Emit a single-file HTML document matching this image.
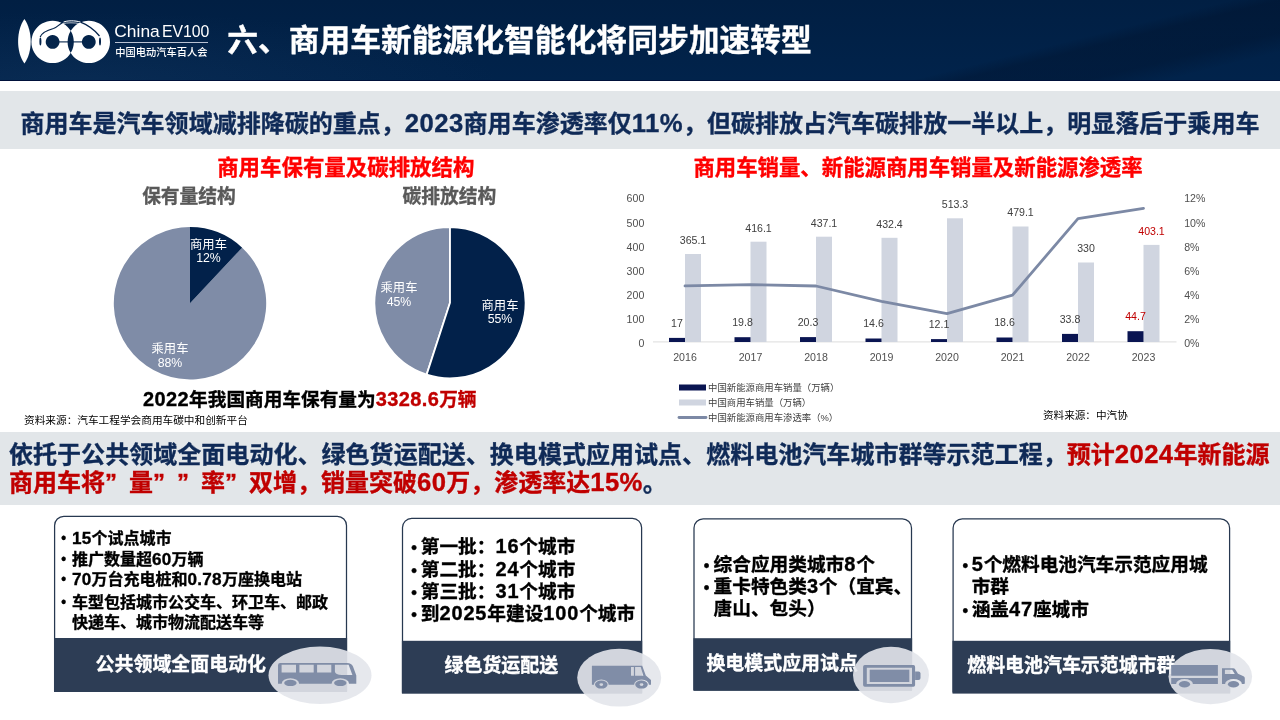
<!DOCTYPE html>
<html lang="zh-CN"><head><meta charset="utf-8"><title>商用车新能源化智能化</title><style>
html,body{margin:0;padding:0}
body{width:1280px;height:720px;position:relative;overflow:hidden;background:#fff;font-family:"Liberation Sans","Noto Sans CJK SC",sans-serif}
.t{position:absolute;white-space:nowrap;font-family:"Liberation Sans","Noto Sans CJK SC",sans-serif}
.b{-webkit-text-stroke:0.35px currentColor}
#hdr{position:absolute;left:0;top:0;width:1280px;height:81px;box-sizing:border-box;border-bottom:1px solid #00113a;background:
 radial-gradient(ellipse 420px 70px at 80px 82px, rgba(45,80,120,0.17), rgba(45,80,120,0) 100%),
 linear-gradient(166deg, rgba(0,0,0,0) 0%, rgba(0,0,0,0) 77%, rgba(0,8,25,0.25) 80%, rgba(0,8,25,0.25) 88%, rgba(0,0,0,0) 93%),
 linear-gradient(to bottom, #011f43 0%, #01234b 100%)}
.band{position:absolute;left:0;width:1280px;background:#e2e6e9}
.q{display:inline-block;width:1em;text-align:left}
</style></head><body>
<div id="hdr"></div>
<svg id="logo" width="120" height="72" viewBox="0 0 120 72" style="position:absolute;left:0;top:0">
<g transform="translate(0,0.5)"><path d="M24.4 18.6 C32.8 30 32.8 52 24.4 63 C16 52 16 30 24.4 18.6 Z" fill="#fff"/>
<path fill="#fff" fill-rule="evenodd" d="M52.6 20.2 a21.2 21.2 0 1 0 0.01 0 Z M88.8 20.2 a21.2 21.2 0 1 0 0.01 0 Z M52.6 34.5 a6.9 6.9 0 1 0 0.01 0 Z M88.8 34.5 a6.9 6.9 0 1 0 0.01 0 Z"/>
<path d="M59 41.4 H82.5" stroke="#03224a" stroke-width="1.1" fill="none"/>
<path d="M40.2 36.5 C42 31.5 48 29.5 53.5 28 C58 26.5 60 22.5 64.5 21.2 C69 19.6 76 19.6 80 21.4 C88 24.5 95 30 99.5 35.5" stroke="#03224a" stroke-width="1.25" fill="none"/>
<path d="M63.5 21.6 C67 20 75 19.8 80.5 21.6" stroke="#fff" stroke-width="1" fill="none"/>
<path d="M62.5 23.2 C67 22 75 22 79.5 23.2" stroke="#fff" stroke-width="0.7" fill="none"/>
<ellipse cx="40.4" cy="41" rx="1" ry="4" fill="#03224a"/>
<ellipse cx="100" cy="41" rx="1" ry="4" fill="#03224a"/>
</g></svg>
<div class="t" style="left:114.3px;top:20px;font-size:17.4px;line-height:22px;color:#fff;font-weight:400;letter-spacing:0px">China<span style="font-size:15.8px;letter-spacing:0px;margin-left:2.2px">EV100</span></div>
<div style="position:absolute;left:114.5px;top:42px;width:93.5px;height:1px;background:#b9c2d3"></div>
<div class="t" style="top:45.60px;font-size:10.25px;line-height:14px;color:#fff;font-weight:500;left:115.3px;">中国电动汽车百人会</div>
<div class="t b" style="top:20.70px;font-size:30.77px;line-height:40px;color:#fff;font-weight:700;left:227.2px;">六、商用车新能源化智能化将同步加速转型</div>
<div class="band" style="top:91px;height:58px"></div>
<div class="t b" style="top:107.50px;font-size:24px;line-height:32px;color:#0f2a57;font-weight:700;left:20.5px;letter-spacing:0.02px;">商用车是汽车领域减排降碳的重点，<span style="line-height:0;font-size:1.07em;letter-spacing:0.0160em">2023</span>商用车渗透率仅<span style="line-height:0;font-size:1.07em;letter-spacing:0.0160em">11%</span>，但碳排放占汽车碳排放一半以上，明显落后于乘用车</div>
<div class="t b" style="top:154.40px;font-size:21.45px;line-height:28px;color:#ff0000;font-weight:700;left:45.80000000000001px;width:600px;text-align:center;">商用车保有量及碳排放结构</div>
<div class="t b" style="top:184.80px;font-size:18.75px;line-height:24px;color:#595959;font-weight:700;left:-111px;width:600px;text-align:center;">保有量结构</div>
<div class="t b" style="top:184.80px;font-size:18.75px;line-height:24px;color:#595959;font-weight:700;left:149.39999999999998px;width:600px;text-align:center;">碳排放结构</div>
<svg width="640" height="440" viewBox="0 0 640 440" style="position:absolute;left:0;top:0"><path d="M190 303.2 L242.16 247.65 A76.2 76.2 0 1 1 190 227.0 Z" fill="#7f8ca7" stroke="#fff" stroke-width="0" stroke-linejoin="round"/><path d="M190 303.2 L190 227.0 A76.2 76.2 0 0 1 242.16 247.65 Z" fill="#02214a" stroke="#fff" stroke-width="0" stroke-linejoin="round"/><path d="M450 302.7 L426.64 374.60 A75.6 75.6 0 0 1 450 227.1 Z" fill="#7f8ca7" stroke="#fff" stroke-width="1.8" stroke-linejoin="round"/><path d="M450 302.7 L450 227.1 A75.6 75.6 0 1 1 426.64 374.60 Z" fill="#02214a" stroke="#fff" stroke-width="1.8" stroke-linejoin="round"/></svg>
<div class="t" style="top:237.90px;font-size:12.3px;line-height:14px;color:#fff;font-weight:400;left:-91.5px;width:600px;text-align:center;">商用车</div>
<div class="t" style="top:251.30px;font-size:12.3px;line-height:14px;color:#fff;font-weight:400;left:-91.5px;width:600px;text-align:center;">12%</div>
<div class="t" style="top:341.50px;font-size:12.3px;line-height:14px;color:#fff;font-weight:400;left:-130px;width:600px;text-align:center;">乘用车</div>
<div class="t" style="top:355.50px;font-size:12.3px;line-height:14px;color:#fff;font-weight:400;left:-130px;width:600px;text-align:center;">88%</div>
<div class="t" style="top:280.50px;font-size:12.3px;line-height:14px;color:#fff;font-weight:400;left:99px;width:600px;text-align:center;">乘用车</div>
<div class="t" style="top:294.50px;font-size:12.3px;line-height:14px;color:#fff;font-weight:400;left:99px;width:600px;text-align:center;">45%</div>
<div class="t" style="top:298.50px;font-size:12.3px;line-height:14px;color:#fff;font-weight:400;left:200px;width:600px;text-align:center;">商用车</div>
<div class="t" style="top:312.00px;font-size:12.3px;line-height:14px;color:#fff;font-weight:400;left:200px;width:600px;text-align:center;">55%</div>
<div class="t b" style="top:387.70px;font-size:18.67px;line-height:24px;color:#000;font-weight:700;left:143px;"><span style="line-height:0;font-size:1.07em;letter-spacing:0.0206em">2022</span>年我国商用车保有量为<span style="color:#c00000"><span style="line-height:0;font-size:1.07em;letter-spacing:0.0206em">3328.6</span>万辆</span></div>
<div class="t" style="top:413.30px;font-size:10.67px;line-height:14px;color:#000;font-weight:400;left:24px;">资料来源：汽车工程学会商用车碳中和创新平台</div>
<div class="t b" style="top:154.20px;font-size:21.4px;line-height:28px;color:#ff0000;font-weight:700;left:618px;width:600px;text-align:center;">商用车销量、新能源商用车销量及新能源渗透率</div>
<svg width="1280" height="440" viewBox="0 0 1280 440" style="position:absolute;left:0;top:0;font-family:'Liberation Sans','Noto Sans CJK SC',sans-serif"><line x1="653" x2="1176.5" y1="341.9" y2="341.9" stroke="#d9d9d9" stroke-width="0.9"/><rect x="685.0" y="254.0" width="16" height="88.0" fill="#d0d5e0"/><rect x="669.0" y="337.9" width="16" height="4.1" fill="#0a1552"/><rect x="750.5" y="241.7" width="16" height="100.3" fill="#d0d5e0"/><rect x="734.5" y="337.2" width="16" height="4.8" fill="#0a1552"/><rect x="816.0" y="236.7" width="16" height="105.3" fill="#d0d5e0"/><rect x="800.0" y="337.1" width="16" height="4.9" fill="#0a1552"/><rect x="881.5" y="237.8" width="16" height="104.2" fill="#d0d5e0"/><rect x="865.5" y="338.5" width="16" height="3.5" fill="#0a1552"/><rect x="947.0" y="218.3" width="16" height="123.7" fill="#d0d5e0"/><rect x="931.0" y="339.1" width="16" height="2.9" fill="#0a1552"/><rect x="1012.5" y="226.5" width="16" height="115.5" fill="#d0d5e0"/><rect x="996.5" y="337.5" width="16" height="4.5" fill="#0a1552"/><rect x="1078.0" y="262.5" width="16" height="79.5" fill="#d0d5e0"/><rect x="1062.0" y="333.9" width="16" height="8.1" fill="#0a1552"/><rect x="1143.5" y="244.9" width="16" height="97.1" fill="#d0d5e0"/><rect x="1127.5" y="331.2" width="16" height="10.8" fill="#0a1552"/><polyline points="685.0,285.9 750.5,284.7 816.0,286.0 881.5,301.3 947.0,313.6 1012.5,295.2 1078.0,218.6 1143.5,208.4" fill="none" stroke="#7c89a5" stroke-width="2.8" stroke-linejoin="round" stroke-linecap="round"/><text x="693.0" y="243.9" font-size="10.6" fill="#404040" text-anchor="middle">365.1</text><text x="677.0" y="326.8" font-size="10.6" fill="#404040" text-anchor="middle">17</text><text x="685.0" y="360.9" font-size="10.6" fill="#505050" text-anchor="middle">2016</text><text x="758.5" y="231.6" font-size="10.6" fill="#404040" text-anchor="middle">416.1</text><text x="742.5" y="326.1" font-size="10.6" fill="#404040" text-anchor="middle">19.8</text><text x="750.5" y="360.9" font-size="10.6" fill="#505050" text-anchor="middle">2017</text><text x="824.0" y="226.6" font-size="10.6" fill="#404040" text-anchor="middle">437.1</text><text x="808.0" y="326.0" font-size="10.6" fill="#404040" text-anchor="middle">20.3</text><text x="816.0" y="360.9" font-size="10.6" fill="#505050" text-anchor="middle">2018</text><text x="889.5" y="227.7" font-size="10.6" fill="#404040" text-anchor="middle">432.4</text><text x="873.5" y="327.4" font-size="10.6" fill="#404040" text-anchor="middle">14.6</text><text x="881.5" y="360.9" font-size="10.6" fill="#505050" text-anchor="middle">2019</text><text x="955.0" y="208.2" font-size="10.6" fill="#404040" text-anchor="middle">513.3</text><text x="939.0" y="328.0" font-size="10.6" fill="#404040" text-anchor="middle">12.1</text><text x="947.0" y="360.9" font-size="10.6" fill="#505050" text-anchor="middle">2020</text><text x="1020.5" y="216.4" font-size="10.6" fill="#404040" text-anchor="middle">479.1</text><text x="1004.5" y="326.4" font-size="10.6" fill="#404040" text-anchor="middle">18.6</text><text x="1012.5" y="360.9" font-size="10.6" fill="#505050" text-anchor="middle">2021</text><text x="1086.0" y="252.4" font-size="10.6" fill="#404040" text-anchor="middle">330</text><text x="1070.0" y="322.8" font-size="10.6" fill="#404040" text-anchor="middle">33.8</text><text x="1078.0" y="360.9" font-size="10.6" fill="#505050" text-anchor="middle">2022</text><text x="1151.5" y="234.8" font-size="10.6" fill="#c00000" text-anchor="middle">403.1</text><text x="1135.5" y="320.1" font-size="10.6" fill="#c00000" text-anchor="middle">44.7</text><text x="1143.5" y="360.9" font-size="10.6" fill="#505050" text-anchor="middle">2023</text><text x="644.3" y="347.0" font-size="10.6" fill="#505050" text-anchor="end">0</text><text x="1184.2" y="347.0" font-size="10.6" fill="#505050">0%</text><text x="644.3" y="322.9" font-size="10.6" fill="#505050" text-anchor="end">100</text><text x="1184.2" y="322.9" font-size="10.6" fill="#505050">2%</text><text x="644.3" y="298.8" font-size="10.6" fill="#505050" text-anchor="end">200</text><text x="1184.2" y="298.8" font-size="10.6" fill="#505050">4%</text><text x="644.3" y="274.7" font-size="10.6" fill="#505050" text-anchor="end">300</text><text x="1184.2" y="274.7" font-size="10.6" fill="#505050">6%</text><text x="644.3" y="250.6" font-size="10.6" fill="#505050" text-anchor="end">400</text><text x="1184.2" y="250.6" font-size="10.6" fill="#505050">8%</text><text x="644.3" y="226.5" font-size="10.6" fill="#505050" text-anchor="end">500</text><text x="1184.2" y="226.5" font-size="10.6" fill="#505050">10%</text><text x="644.3" y="202.4" font-size="10.6" fill="#505050" text-anchor="end">600</text><text x="1184.2" y="202.4" font-size="10.6" fill="#505050">12%</text><rect x="679" y="384.5" width="27" height="6" fill="#0a1552"/><rect x="679" y="399.5" width="27" height="6" fill="#d0d5e0"/><line x1="679" x2="706" y1="417.5" y2="417.5" stroke="#7c89a5" stroke-width="2.8" stroke-linecap="round"/><text x="708" y="391" font-size="9.4" fill="#404040">中国新能源商用车销量（万辆）</text><text x="708" y="406" font-size="9.4" fill="#404040">中国商用车销量（万辆）</text><text x="708" y="421" font-size="9.4" fill="#404040">中国新能源商用车渗透率（%）</text></svg>
<div class="t" style="top:407.80px;font-size:10.6px;line-height:14px;color:#000;font-weight:400;left:1043px;">资料来源：中汽协</div>
<div class="band" style="top:432px;height:73px"></div>
<div class="t b" style="top:439.90px;font-size:24px;line-height:30px;color:#0f2a57;font-weight:700;left:9px;letter-spacing:0.04px;">依托于公共领域全面电动化、绿色货运配送、换电模式应用试点、燃料电池汽车城市群等示范工程，<span style="color:#c00000">预计<span style="line-height:0;font-size:1.07em;letter-spacing:0.0141em">2024</span>年新能源</span></div>
<div class="t b" style="top:468.10px;font-size:24px;line-height:30px;color:#c00000;font-weight:700;left:9px;">商用车将<span class="q">”</span>量<span class="q">”</span><span class="q">”</span>率<span class="q">”</span>双增，销量突破<span style="line-height:0;font-size:1.07em;letter-spacing:0.0141em">60</span>万，渗透率达<span style="line-height:0;font-size:1.07em;letter-spacing:0.0141em">15%</span><span style="color:#0f2a57">。</span></div>
<svg width="1280" height="720" viewBox="0 0 1280 720" style="position:absolute;left:0;top:0"><path d="M54.6 691 V525.5 A9.2 9.2 0 0 1 63.8 516.3 H337.3 A9.2 9.2 0 0 1 346.5 525.5 V691" fill="#fff" stroke="#273850" stroke-width="1.25"/><rect x="54.0" y="638" width="293.09999999999997" height="54" fill="#2d3d55"/></svg>
<div class="t b" style="top:653.00px;font-size:18.95px;line-height:24px;color:#fff;font-weight:700;left:95.6px;">公共领域全面电动化</div>
<div class="t b" style="top:528.80px;font-size:16px;line-height:20px;color:#000;font-weight:700;left:61.2px;font-size:13.76px;">•</div>
<div class="t b" style="top:528.80px;font-size:16px;line-height:20px;color:#000;font-weight:700;left:72px;"><span style="line-height:0;font-size:1.07em;letter-spacing:0.0150em">15</span>个试点城市</div>
<div class="t b" style="top:549.60px;font-size:16px;line-height:20px;color:#000;font-weight:700;left:61.2px;font-size:13.76px;">•</div>
<div class="t b" style="top:549.60px;font-size:16px;line-height:20px;color:#000;font-weight:700;left:72px;">推广数量超<span style="line-height:0;font-size:1.07em;letter-spacing:0.0150em">60</span>万辆</div>
<div class="t b" style="top:570.30px;font-size:16px;line-height:20px;color:#000;font-weight:700;left:61.2px;font-size:13.76px;">•</div>
<div class="t b" style="top:570.30px;font-size:16px;line-height:20px;color:#000;font-weight:700;left:72px;"><span style="line-height:0;font-size:1.07em;letter-spacing:0.0150em">70</span>万台充电桩和<span style="line-height:0;font-size:1.07em;letter-spacing:0.0150em">0.78</span>万座换电站</div>
<div class="t b" style="top:592.50px;font-size:16px;line-height:20px;color:#000;font-weight:700;left:61.2px;font-size:13.76px;">•</div>
<div class="t b" style="top:592.50px;font-size:16px;line-height:20px;color:#000;font-weight:700;left:72px;">车型包括城市公交车、环卫车、邮政</div>
<div class="t b" style="top:613.00px;font-size:16px;line-height:20px;color:#000;font-weight:700;left:72px;">快递车、城市物流配送车等</div>
<svg width="1280" height="720" viewBox="0 0 1280 720" style="position:absolute;left:0;top:0"><path d="M402.5 692.7 V527.6 A9.2 9.2 0 0 1 411.7 518.4 H632.4 A9.2 9.2 0 0 1 641.6 527.6 V692.7" fill="#fff" stroke="#273850" stroke-width="1.25"/><rect x="401.9" y="640.8" width="240.3" height="52.90000000000009" fill="#2d3d55"/></svg>
<div class="t b" style="top:653.80px;font-size:18.95px;line-height:24px;color:#fff;font-weight:700;left:444.5px;">绿色货运配送</div>
<div class="t b" style="top:537.20px;font-size:18.67px;line-height:20px;color:#000;font-weight:700;left:411.2px;font-size:16.0562px;">•</div>
<div class="t b" style="top:537.20px;font-size:18.67px;line-height:20px;color:#000;font-weight:700;left:420.8px;">第一批：<span style="line-height:0;font-size:1.07em;letter-spacing:0.0431em">16</span>个城市</div>
<div class="t b" style="top:559.70px;font-size:18.67px;line-height:20px;color:#000;font-weight:700;left:411.2px;font-size:16.0562px;">•</div>
<div class="t b" style="top:559.70px;font-size:18.67px;line-height:20px;color:#000;font-weight:700;left:420.8px;">第二批：<span style="line-height:0;font-size:1.07em;letter-spacing:0.0431em">24</span>个城市</div>
<div class="t b" style="top:582.00px;font-size:18.67px;line-height:20px;color:#000;font-weight:700;left:411.2px;font-size:16.0562px;">•</div>
<div class="t b" style="top:582.00px;font-size:18.67px;line-height:20px;color:#000;font-weight:700;left:420.8px;">第三批：<span style="line-height:0;font-size:1.07em;letter-spacing:0.0431em">31</span>个城市</div>
<div class="t b" style="top:604.00px;font-size:18.67px;line-height:20px;color:#000;font-weight:700;left:411.2px;font-size:16.0562px;">•</div>
<div class="t b" style="top:604.00px;font-size:18.67px;line-height:20px;color:#000;font-weight:700;left:420.8px;">到<span style="line-height:0;font-size:1.07em;letter-spacing:0.0431em">2025</span>年建设<span style="line-height:0;font-size:1.07em;letter-spacing:0.0431em">100</span>个城市</div>
<svg width="1280" height="720" viewBox="0 0 1280 720" style="position:absolute;left:0;top:0"><path d="M694 689.9 V528.0 A9.2 9.2 0 0 1 703.2 518.8 H902.3 A9.2 9.2 0 0 1 911.5 528.0 V689.9" fill="#fff" stroke="#273850" stroke-width="1.25"/><rect x="693.4" y="638.2" width="218.7" height="52.69999999999993" fill="#2d3d55"/></svg>
<div class="t b" style="top:651.70px;font-size:18.95px;line-height:24px;color:#fff;font-weight:700;left:706.4px;">换电模式应用试点</div>
<div class="t b" style="top:554.60px;font-size:18.67px;line-height:20px;color:#000;font-weight:700;left:703.8px;font-size:16.0562px;">•</div>
<div class="t b" style="top:554.60px;font-size:18.67px;line-height:20px;color:#000;font-weight:700;left:713.6px;">综合应用类城市<span style="line-height:0;font-size:1.07em;letter-spacing:0.0431em">8</span>个</div>
<div class="t b" style="top:577.30px;font-size:18.67px;line-height:20px;color:#000;font-weight:700;left:703.8px;font-size:16.0562px;">•</div>
<div class="t b" style="top:577.30px;font-size:18.67px;line-height:20px;color:#000;font-weight:700;left:713.6px;">重卡特色类<span style="line-height:0;font-size:1.07em;letter-spacing:0.0431em">3</span>个（宜宾、</div>
<div class="t b" style="top:599.00px;font-size:18.67px;line-height:20px;color:#000;font-weight:700;left:713.6px;">唐山、包头）</div>
<svg width="1280" height="720" viewBox="0 0 1280 720" style="position:absolute;left:0;top:0"><path d="M953.1 692.6 V528.0 A9.2 9.2 0 0 1 962.3000000000001 518.8 H1220.3999999999999 A9.2 9.2 0 0 1 1229.6 528.0 V692.6" fill="#fff" stroke="#273850" stroke-width="1.25"/><rect x="952.5" y="640.8" width="277.6999999999999" height="52.80000000000007" fill="#2d3d55"/></svg>
<div class="t b" style="top:653.70px;font-size:18.95px;line-height:24px;color:#fff;font-weight:700;left:967.2px;">燃料电池汽车示范城市群</div>
<div class="t b" style="top:554.80px;font-size:18.67px;line-height:20px;color:#000;font-weight:700;left:962.6px;font-size:16.0562px;">•</div>
<div class="t b" style="top:554.80px;font-size:18.67px;line-height:20px;color:#000;font-weight:700;left:971.7px;"><span style="line-height:0;font-size:1.07em;letter-spacing:0.0431em">5</span>个燃料电池汽车示范应用城</div>
<div class="t b" style="top:577.00px;font-size:18.67px;line-height:20px;color:#000;font-weight:700;left:971.7px;">市群</div>
<div class="t b" style="top:600.00px;font-size:18.67px;line-height:20px;color:#000;font-weight:700;left:962.6px;font-size:16.0562px;">•</div>
<div class="t b" style="top:600.00px;font-size:18.67px;line-height:20px;color:#000;font-weight:700;left:971.7px;">涵盖<span style="line-height:0;font-size:1.07em;letter-spacing:0.0431em">47</span>座城市</div>
<svg width="1280" height="720" viewBox="0 0 1280 720" style="position:absolute;left:0;top:0"><ellipse cx="320" cy="675.3" rx="51.5" ry="28.7" fill="#e3e6eb" fill-opacity="0.905"/><ellipse cx="619.2" cy="677.7" rx="42" ry="28.9" fill="#e3e6eb" fill-opacity="0.905"/><ellipse cx="891" cy="675" rx="38" ry="28.2" fill="#e3e6eb" fill-opacity="0.905"/><ellipse cx="1210.3" cy="676.6" rx="41.8" ry="27.6" fill="#e3e6eb" fill-opacity="0.905"/><path fill="#808da7" fill-rule="evenodd" d="M278 665.2 Q278 663 280.2 663 H347 Q351.6 663 353 666.5 L356.3 675.5 V683.8 H349 A8.7 5.6 0 0 0 331.6 683.8 H299.1 A8.7 5.6 0 0 0 281.7 683.8 H278 Z M281.6 664.8 H296 V672.6 H281.6 Z M299.4 664.8 H313.7 V672.6 H299.4 Z M317.1 664.8 H331.3 V672.6 H317.1 Z M334.9 664.8 H348.6 L352.4 675 H342 Q335.2 674.6 334.9 671.5 Z"/><g fill="#808da7"><ellipse cx="290.4" cy="682.9" rx="6.2" ry="3.2"/><ellipse cx="340.3" cy="682.9" rx="6.2" ry="3.2"/></g><path fill="#808da7" fill-rule="evenodd" d="M591.9 665.8 H642.2 L645.8 675.5 L651 679.9 V684.7 H648.9 A7.4 5.2 0 0 0 634.1 684.7 H608.7 A7.4 5.2 0 0 0 593.9 684.7 H591.9 Z M631 667 H633.9 V675.8 H631 Z M635.1 667 H640.7 L643.4 675.8 H635.1 Z"/><path fill="#808da7" fill-rule="evenodd" d="M595 684.6 a6.3 4 0 1 0 12.6 0 a6.3 4 0 1 0 -12.6 0 Z M599.4 684.6 a1.9 1.4 0 1 0 3.8 0 a1.9 1.4 0 1 0 -3.8 0 Z M635.2 684.6 a6.3 4 0 1 0 12.6 0 a6.3 4 0 1 0 -12.6 0 Z M639.6 684.6 a1.9 1.4 0 1 0 3.8 0 a1.9 1.4 0 1 0 -3.8 0 Z"/><path fill="#808da7" fill-rule="evenodd" d="M864.8 665 H913.4 Q915.1 665 915.1 666.7 V685 Q915.1 686.7 913.4 686.7 H864.8 Q863.1 686.7 863.1 685 V666.7 Q863.1 665 864.8 665 Z M866.8 667.7 V684 H912 V667.7 Z"/><rect x="869.7" y="669.7" width="39.6" height="12.3" fill="#808da7"/><path fill="#808da7" d="M915.1 671.6 H918.5 Q920.5 671.6 920.5 673.6 V677.9 Q920.5 679.9 918.5 679.9 H915.1 Z"/><path fill="#808da7" fill-rule="evenodd" d="M1171.2 665.1 H1217.9 V675.8 H1171.2 Z M1171.2 678.1 H1217.9 V684 H1192.9 A8.4 5 0 0 0 1176.1 684 H1171.2 Z M1222 668.2 H1233 Q1234.6 668.2 1235.3 669.5 L1238 673.7 L1243.5 676.2 Q1244.8 676.9 1244.8 678.2 V683.2 Q1244.8 684 1244 684 H1241.9 A8.4 5 0 0 0 1225.1 684 H1222 Z M1224.9 669.7 H1232.2 L1234.8 674 H1224.9 Z"/><g fill="#808da7"><ellipse cx="1184.5" cy="684.3" rx="5.6" ry="3.2"/><ellipse cx="1233.5" cy="684.3" rx="5.6" ry="3.2"/></g></svg>
</body></html>
